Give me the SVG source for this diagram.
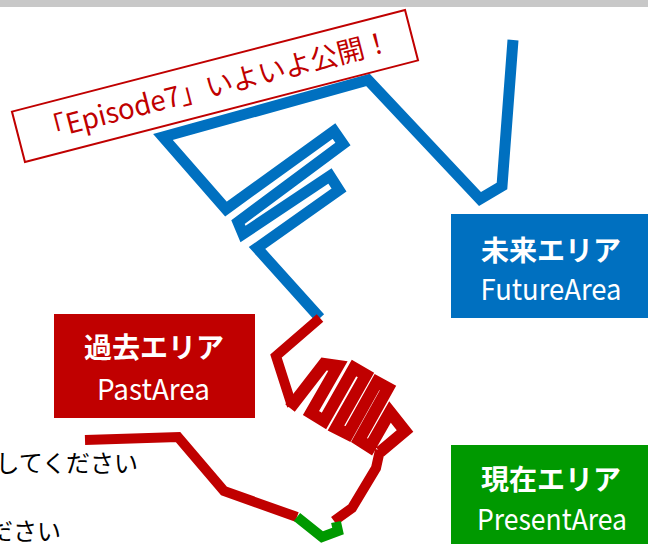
<svg xmlns="http://www.w3.org/2000/svg" width="648" height="544" viewBox="0 0 648 544">
<style>
.bar{fill:#c8c8c8}
.line{fill:none;stroke-linejoin:miter;stroke-linecap:butt}
.blue{stroke:#0070c0;stroke-width:11}
.red{stroke:#c00000;stroke-width:10}
.coil{stroke:#c00000;stroke-width:12}
.green{stroke:#009900;stroke-width:10}
.jp{font-family:"Noto Sans CJK JP","Noto Sans",sans-serif}
.ttl{fill:#fff;font-size:28px;font-weight:bold;text-anchor:middle}
.sub{fill:#fff;font-size:29px;text-anchor:middle}
.note{fill:#000;font-size:24px;text-anchor:end}
.banner-box{fill:#fff;stroke:#c00000;stroke-width:2}
.banner-txt{fill:#c00000;font-size:28px;text-anchor:middle}
</style>
<rect class="bar" x="0" y="0" width="648" height="7"/>
<g id="connectors">
<path class="line blue" d="M513,40 L502,186 L480,199 L368,80 L163,137 L226,209 L334,131 L343,144 L238,222 L243,234 L330,176 L339,190 L257,248 L320,318"/>
<path class="line red" d="M320,318 L276,356 L292,406"/>
<path class="line coil" d="M290,408 L324,364 L338,366 L311,413 L324,421 L354,368 L366,375 L336,428 L348,434 L377,382 L388,388 L359,440 L370,447 L390,412 L405,431 L380,452"/>
<path class="line red" d="M380,450 L376,468 L352,508 L334,521"/>
<path class="line red" d="M85,440 L178,437 L224,491 L297,517"/>
<path class="line green" d="M297,517 L322,537 L338,531 L336,522"/>
</g>
<g id="banner">
<g transform="translate(215,86) rotate(-14.5)">
<rect class="banner-box" x="-203" y="-26" width="406" height="52"/>
<text class="jp banner-txt" x="0" y="10" textLength="362" lengthAdjust="spacingAndGlyphs">「Episode7」いよいよ公開！</text>
</g>
</g>
<g id="future">
<rect x="451" y="214" width="197" height="104" fill="#0070c0"/>
<text class="jp ttl" x="551" y="261">未来エリア</text>
<text class="jp sub" x="551" y="300" textLength="141" lengthAdjust="spacingAndGlyphs">FutureArea</text>
</g>
<g id="past">
<rect x="54" y="314" width="201" height="104" fill="#c00000"/>
<text class="jp ttl" x="154" y="358">過去エリア</text>
<text class="jp sub" x="153.5" y="400" textLength="113" lengthAdjust="spacingAndGlyphs">PastArea</text>
</g>
<g id="present">
<rect x="451" y="445" width="197" height="99" fill="#009900"/>
<text class="jp ttl" x="551" y="490">現在エリア</text>
<text class="jp sub" x="552" y="530" textLength="150" lengthAdjust="spacingAndGlyphs">PresentArea</text>
</g>
<g id="notes">
<text class="jp note" x="138" y="472">してください</text>
<text class="jp note" x="61" y="540">ださい</text>
</g>
</svg>
